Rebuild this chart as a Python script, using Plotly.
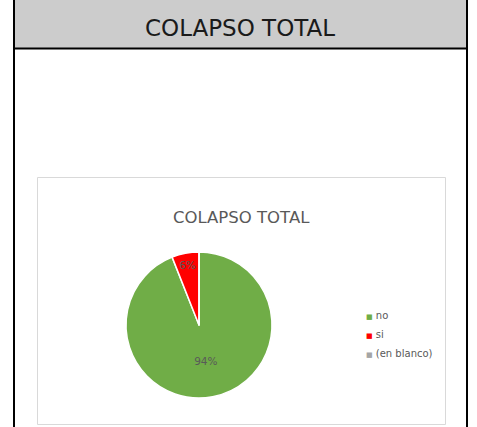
import plotly.graph_objects as go

# Data
categories = ["no", "si", "(en blanco)"]
values = [94, 6, 0]
slice_labels = ["94%", "6%", ""]
colors = ["#70AD47", "#FF0000", "#A5A5A5"]
header_title = "COLAPSO TOTAL"
chart_title = "COLAPSO TOTAL"

W, H = 477, 427


def px(x):
    return x / W


def py(y):
    return 1 - y / H


fig = go.Figure()

fig.add_trace(go.Pie(
    labels=categories,
    values=values,
    text=slice_labels,
    textinfo="text",
    textposition="inside",
    insidetextorientation="horizontal",
    textfont=dict(family="DejaVu Sans", size=10.5, color="#595959"),
    marker=dict(colors=colors, line=dict(color="white", width=1.5)),
    sort=False,
    direction="clockwise",
    rotation=0,
    showlegend=False,
    hoverinfo="label+percent",
    domain=dict(x=[px(126), px(272)], y=[py(398), py(252)]),
))

# legend entries: the coloured square is part of the legend text, the symbol is hidden
for cat, col in zip(categories, colors):
    fig.add_trace(go.Scatter(
        x=[None], y=[None], mode="markers",
        name=f'<span style="color:{col};font-size:7px">■</span> {cat}',
        marker=dict(symbol="square", size=1, color="rgba(0,0,0,0)"),
        showlegend=True,
    ))

shapes = [
    dict(type="rect", xref="paper", yref="paper", x0=px(14), x1=px(467), y0=py(48), y1=py(-2),
         fillcolor="#CCCCCC", line=dict(width=0), layer="below"),
    dict(type="line", xref="paper", yref="paper", x0=px(14), x1=px(467), y0=py(48.5), y1=py(48.5),
         line=dict(color="#000000", width=2)),
    dict(type="line", xref="paper", yref="paper", x0=px(14), x1=px(14), y0=py(-2), y1=py(430),
         line=dict(color="#000000", width=2)),
    dict(type="line", xref="paper", yref="paper", x0=px(467), x1=px(467), y0=py(-2), y1=py(430),
         line=dict(color="#000000", width=2)),
    dict(type="rect", xref="paper", yref="paper", x0=px(37.5), x1=px(445.5), y0=py(424.5), y1=py(177.5),
         fillcolor="rgba(0,0,0,0)", line=dict(color="#D9D9D9", width=1)),
]

annotations = [
    dict(text=header_title, xref="paper", yref="paper", x=px(240), y=py(28),
         xanchor="center", yanchor="middle", showarrow=False,
         font=dict(family="DejaVu Sans", size=23, color="#1a1a1a")),
    dict(text=chart_title, xref="paper", yref="paper", x=px(241), y=py(217),
         xanchor="center", yanchor="middle", showarrow=False,
         font=dict(family="DejaVu Sans", size=16.5, color="#595959")),
]

fig.update_layout(
    width=W, height=H,
    margin=dict(l=0, r=0, t=0, b=0),
    paper_bgcolor="white",
    plot_bgcolor="rgba(0,0,0,0)",
    shapes=shapes,
    annotations=annotations,
    xaxis=dict(visible=False),
    yaxis=dict(visible=False),
    legend=dict(x=px(326), y=py(301), xanchor="left", yanchor="top",
                font=dict(family="DejaVu Sans", size=10, color="#595959"),
                bgcolor="rgba(0,0,0,0)", tracegroupgap=0, itemwidth=30),
)

fig.write_html("out.html", config={"displayModeBar": False},
               post_script="document.body.style.margin='0';document.body.style.padding='0';")
